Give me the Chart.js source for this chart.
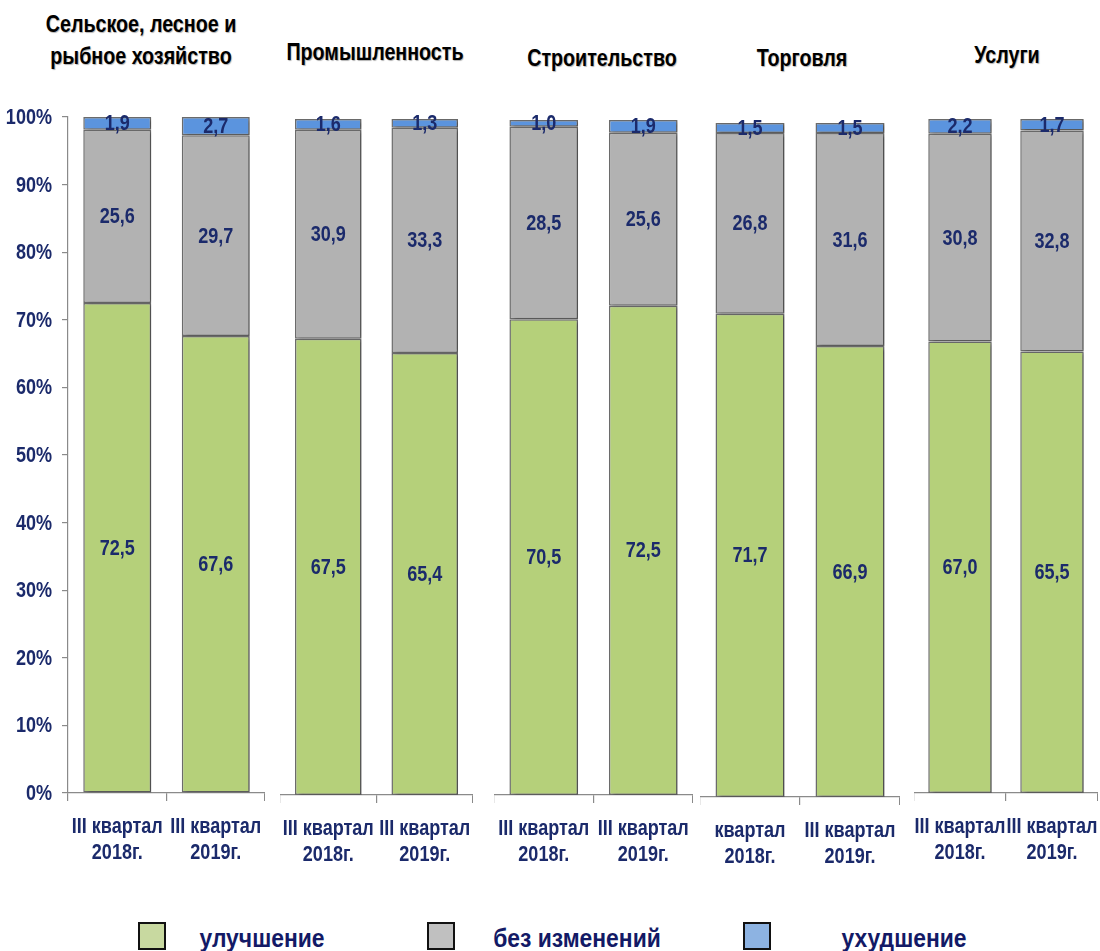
<!DOCTYPE html>
<html>
<head>
<meta charset="utf-8">
<script src="https://cdn.jsdelivr.net/npm/chart.js@4.4.1/dist/chart.umd.min.js"></script>
<style>
  body { margin: 0; background: #fff; }
  #page { position: relative; width: 1100px; height: 951px; overflow: hidden; font-family: 'Liberation Sans', Arial, sans-serif; }
  canvas { position: absolute; }
  .title { position: absolute; width: 300px; font-weight: bold; font-size: 24px; color: #000; text-align: center; line-height: 32px; text-shadow: 1px 1px 1px rgba(0,0,0,0.3); white-space: nowrap; transform: scaleX(0.82); }
  .leg-box { position: absolute; width: 24px; height: 24px; border: 2px solid #111; top: 922px; }
  .leg-text { position: absolute; width: 240px; top: 923px; font-weight: bold; font-size: 26px; line-height: 30px; color: #131a66; text-align: center; transform: scaleX(0.88); }
</style>
</head>
<body>
<div id="page">
  <div class="title" style="left:-9px; top:8px;">Сельское, лесное и<br>рыбное хозяйство</div>
  <div class="title" style="left:225px; top:36px;">Промышленность</div>
  <div class="title" style="left:452px; top:42px;">Строительство</div>
  <div class="title" style="left:652px; top:42px;">Торговля</div>
  <div class="title" style="left:857px; top:39px;">Услуги</div>

  <div class="leg-box" style="left:138px; background:#c8d9a0;"></div>
  <div class="leg-text" style="left:142px;">улучшение</div>
  <div class="leg-box" style="left:427px; background:#c0c0c0;"></div>
  <div class="leg-text" style="left:457px;">без изменений</div>
  <div class="leg-box" style="left:743px; background:#8db3e2;"></div>
  <div class="leg-text" style="left:784px;">ухудшение</div>
</div>
<script>
// values, %
const sectors = ['Сельское, лесное и рыбное хозяйство', 'Промышленность', 'Строительство', 'Торговля', 'Услуги'];
const periodLabels = [
  [['III квартал', '2018г.'], ['III квартал', '2019г.']],
  [['III квартал', '2018г.'], ['III квартал', '2019г.']],
  [['III квартал', '2018г.'], ['III квартал', '2019г.']],
  [['квартал', '2018г.'], ['III квартал', '2019г.']],
  [['III квартал', '2018г.'], ['III квартал', '2019г.']]
];
const improved  = [[72.5, 67.6], [67.5, 65.4], [70.5, 72.5], [71.7, 66.9], [67.0, 65.5]];
const unchanged = [[25.6, 29.7], [30.9, 33.3], [28.5, 25.6], [26.8, 31.6], [30.8, 32.8]];
const worsened  = [[1.9, 2.7], [1.6, 1.3], [1.0, 1.9], [1.5, 1.5], [2.2, 1.7]];
const seriesNames = ['улучшение', 'без изменений', 'ухудшение'];

// where each small chart sits on the page
const frames = [
  { left: 0,   right: 265,  top: 117, bottom: 793 },
  { left: 280, right: 473,  top: 119, bottom: 795 },
  { left: 494, right: 693,  top: 120, bottom: 795 },
  { left: 700, right: 900,  top: 123, bottom: 797 },
  { left: 914, right: 1098, top: 119, bottom: 793 }
];

const FONT = "'Liberation Sans', Arial, sans-serif";
const NAVY = '#1b2a6b';
const PAD_TOP = 17;
const XAXIS_H = 80;

// Arial-Narrow look: bold Liberation Sans squeezed horizontally
function narrowText(ctx, text, x, y, size, align, baseline) {
  ctx.save();
  ctx.translate(x, y);
  ctx.scale(0.82, 1);
  ctx.font = 'bold ' + size + 'px ' + FONT;
  ctx.fillStyle = NAVY;
  ctx.textAlign = align;
  ctx.textBaseline = baseline;
  ctx.fillText(text, 0, 0);
  ctx.restore();
}

const shadowPlugin = {
  id: 'shadow',
  beforeDatasetsDraw(chart) {
    const ctx = chart.ctx;
    ctx.save();
    ctx.shadowColor = 'rgba(0,0,0,0.28)';
    ctx.shadowOffsetX = 3;
    ctx.shadowOffsetY = 1;
    ctx.shadowBlur = 3;
  },
  afterDatasetsDraw(chart) {
    chart.ctx.restore();
  }
};

const textPlugin = {
  id: 'narrowLabels',
  afterDraw(chart) {
    const ctx = chart.ctx;
    // values inside the segments
    chart.data.datasets.forEach((ds, i) => {
      chart.getDatasetMeta(i).data.forEach((bar, j) => {
        const v = ds.data[j];
        narrowText(ctx, v.toFixed(1).replace('.', ','), bar.x, (bar.y + bar.base) / 2 + 1, 22, 'center', 'middle');
      });
    });
    // category labels
    const xs = chart.scales.x;
    chart.data.labels.forEach((lines, i) => {
      const x = xs.getPixelForTick(i);
      lines.forEach((t, k) => {
        narrowText(ctx, t, x, xs.top + 40 + k * 26, 22, 'center', 'alphabetic');
      });
    });
    // percent labels
    const ys = chart.scales.y;
    if (ys.options.display) {
      ys.ticks.forEach(t => {
        narrowText(ctx, t.value + '%', ys.right - 16, ys.getPixelForValue(t.value) + 1, 22, 'right', 'middle');
      });
    }
  }
};

const page = document.getElementById('page');

frames.forEach((f, g) => {
  const first = g === 0;
  const canvas = document.createElement('canvas');
  const w = f.right - f.left;
  const h = f.bottom - f.top + PAD_TOP + XAXIS_H;
  canvas.width = w;
  canvas.height = h;
  canvas.style.left = f.left + 'px';
  canvas.style.top = (f.top - PAD_TOP) + 'px';
  canvas.style.width = w + 'px';
  canvas.style.height = h + 'px';
  page.appendChild(canvas);

  new Chart(canvas.getContext('2d'), {
    type: 'bar',
    data: {
      labels: periodLabels[g],
      datasets: [
        { label: seriesNames[0], data: improved[g],  backgroundColor: '#b5d07a' },
        { label: seriesNames[1], data: unchanged[g], backgroundColor: '#b2b2b2' },
        { label: seriesNames[2], data: worsened[g],  backgroundColor: '#5b94de' }
      ]
    },
    options: {
      responsive: false,
      animation: false,
      devicePixelRatio: 1,
      layout: { padding: { top: PAD_TOP, right: 0, bottom: 0, left: 0 } },
      datasets: {
        bar: {
          borderColor: '#6b6b6b',
          borderWidth: 1.5,
          borderSkipped: false,
          categoryPercentage: 1.0,
          barPercentage: 0.69
        }
      },
      plugins: {
        legend: { display: false },
        tooltip: { enabled: false },
        title: { display: false }
      },
      scales: {
        x: {
          stacked: true,
          afterFit(s) { s.height = XAXIS_H; s.paddingLeft = 0; s.paddingRight = 0; },
          grid: { display: true, offset: true, drawOnChartArea: false, drawTicks: true, tickLength: 8, color: '#8a8a8a', lineWidth: 1.2 },
          border: { display: true, color: '#8a8a8a', width: 1.2 },
          ticks: { display: false }
        },
        y: {
          display: first,
          stacked: true,
          min: 0,
          max: 100,
          afterFit(s) { s.width = first ? 68 : 0; s.paddingTop = 0; s.paddingBottom = 0; },
          grid: { display: true, drawOnChartArea: false, drawTicks: true, tickLength: 6, color: '#8a8a8a', lineWidth: 1.2 },
          border: { display: true, color: '#8a8a8a', width: 1.2 },
          ticks: { display: false, stepSize: 10 }
        }
      }
    },
    plugins: [shadowPlugin, textPlugin]
  });
});
</script>
</body>
</html>
